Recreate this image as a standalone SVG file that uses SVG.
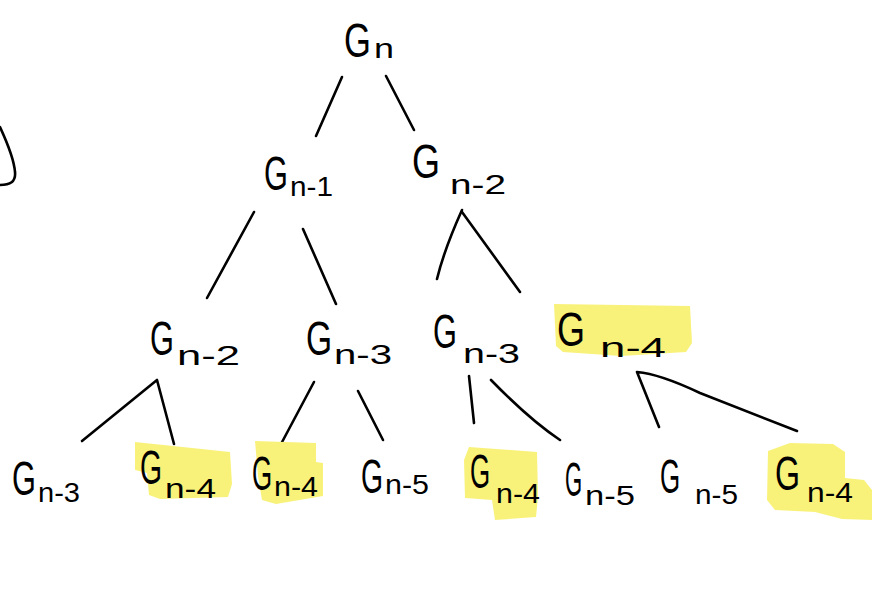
<svg xmlns="http://www.w3.org/2000/svg" width="874" height="613" viewBox="0 0 874 613">
<style>
.hl{fill:#f9f27a;stroke:none}
text{font-family:"Liberation Sans",Arial,sans-serif;fill:#000}
.g{font-size:48px}
.s{font-size:28px}
.e{fill:none;stroke:#000;stroke-width:2.6;stroke-linecap:round;stroke-linejoin:round}
</style>
<rect width="874" height="613" fill="#fff"/>
<path class="e" d="M0,127 C6,140 14,158 15,172 C16,182 10,185 0,185"/>
<g id="connectors">
<path class="e" d="M342,77 L316,136"/>
<path class="e" d="M386,76 L414,130"/>
<path class="e" d="M254,212 L207,298"/>
<path class="e" d="M303,229 L336,304"/>
<path class="e" d="M462,210 Q444,250 437,279"/>
<path class="e" d="M462,212 L520,292"/>
<path class="e" d="M82,441 L157,380 L174,444"/>
<path class="e" d="M314,382 L281,444"/>
<path class="e" d="M358,391 L383,440"/>
<path class="e" d="M469,376 L474,423"/>
<path class="e" d="M491,380 Q530,420 560,440"/>
<path class="e" d="M659,427 L637,372 Q660,374 700,393 L797,431"/>
</g>
<g id="n1"><text class="g" transform="translate(344,57) scale(0.72,1)">G</text><text class="s" x="374" y="58" textLength="20" lengthAdjust="spacingAndGlyphs">n</text></g>
<g id="n2"><text class="g" transform="translate(264,190) scale(0.64,1)">G</text><text class="s" x="290" y="196" textLength="43" lengthAdjust="spacingAndGlyphs">n-1</text></g>
<g id="n3"><text class="g" transform="translate(412,178) scale(0.75,1)">G</text><text class="s" x="450" y="194" textLength="56" lengthAdjust="spacingAndGlyphs">n-2</text></g>
<g id="n4"><text class="g" transform="translate(150,355) scale(0.64,1)">G</text><text class="s" x="177" y="365" textLength="63" lengthAdjust="spacingAndGlyphs">n-2</text></g>
<g id="n5"><text class="g" transform="translate(306,355) scale(0.7,1)">G</text><text class="s" x="334" y="364" textLength="58" lengthAdjust="spacingAndGlyphs">n-3</text></g>
<g id="n6"><text class="g" transform="translate(433,348) scale(0.64,1)">G</text><text class="s" x="463" y="363" textLength="57" lengthAdjust="spacingAndGlyphs">n-3</text></g>
<g id="n7"><path class="hl" d="M554,304 L690,306 L692,343 L686,352 L621,356 L563,352 L556,346 Z"/><text class="g" transform="translate(557,346) scale(0.75,1)">G</text><text class="s" x="600" y="357" textLength="66" lengthAdjust="spacingAndGlyphs">n-4</text></g>
<g id="n8"><text class="g" transform="translate(12,495) scale(0.64,1)">G</text><text class="s" x="38" y="502" textLength="42" lengthAdjust="spacingAndGlyphs">n-3</text></g>
<g id="n9"><path class="hl" d="M135,442 L230,452 L232,484 L228,497 L160,499 L149,495 L147,473 L135,470 Z"/><text class="g" transform="translate(140,484) scale(0.59,1)">G</text><text class="s" x="165" y="498" textLength="51" lengthAdjust="spacingAndGlyphs">n-4</text></g>
<g id="n10"><path class="hl" d="M255,441 L316,443 L316,462 L323,463 L323,496 L276,504 L262,500 L258,476 Z"/><text class="g" transform="translate(252,490) scale(0.54,1)">G</text><text class="s" x="274" y="496" textLength="44" lengthAdjust="spacingAndGlyphs">n-4</text></g>
<g id="n11"><text class="g" transform="translate(361,493) scale(0.59,1)">G</text><text class="s" x="385" y="494" textLength="44" lengthAdjust="spacingAndGlyphs">n-5</text></g>
<g id="n12"><path class="hl" d="M469,447 L537,452 L538,497 L536,517 L495,520 L492,500 L465,498 L464,460 Z"/><text class="g" transform="translate(470,488) scale(0.54,1)">G</text><text class="s" x="496" y="503" textLength="44" lengthAdjust="spacingAndGlyphs">n-4</text></g>
<g id="n13"><text class="g" transform="translate(565,496) scale(0.46,1)">G</text><text class="s" x="585" y="505" textLength="50" lengthAdjust="spacingAndGlyphs">n-5</text></g>
<g id="n14"><text class="g" transform="translate(660,493) scale(0.54,1)">G</text><text class="s" x="695" y="504" textLength="43" lengthAdjust="spacingAndGlyphs">n-5</text></g>
<g id="n15"><path class="hl" d="M768,451 L790,443 L833,444 L845,452 L845,478 L864,480 L872,490 L872,520 L842,519 L815,512 L775,510 L767,500 Z"/><text class="g" transform="translate(775,490) scale(0.67,1)">G</text><text class="s" x="807" y="502" textLength="46" lengthAdjust="spacingAndGlyphs">n-4</text></g>
</svg>
